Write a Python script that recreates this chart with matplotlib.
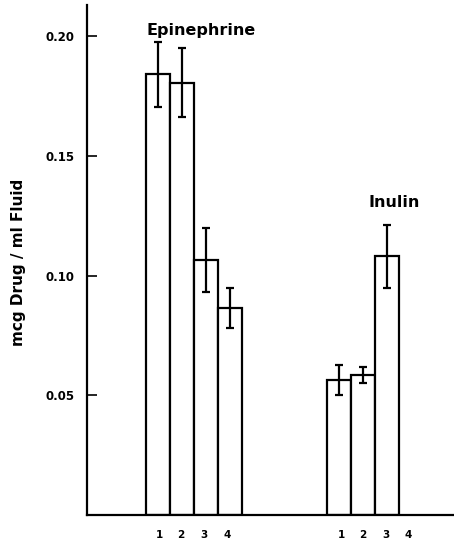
import matplotlib.pyplot as plt

# bar values (mcg drug / ml fluid)
epi_pos = [0, 1, 2, 3]
epi_vals = [0.184, 0.1805, 0.1066, 0.0865]
epi_err = [0.0135, 0.0145, 0.0133, 0.0085]

inu_pos = [7.5, 8.5, 9.5]
inu_vals = [0.0565, 0.0585, 0.108]
inu_err = [0.0063, 0.0035, 0.013]

tick_pos = [0.05, 0.92, 1.92, 2.88, 7.6, 8.5, 9.45, 10.4]
tick_labels = ['1', '2', '3', '4', '1', '2', '3', '4']

plt.rcParams['font.family'] = ['DejaVu Sans']

fig = plt.figure(figsize=(4.54, 5.44), dpi=100)
ax = fig.add_axes([0.192, 0.053, 0.808, 0.938])

err_kw = dict(ecolor='black', elinewidth=1.6, capsize=2.8, capthick=1.6)
ax.bar(epi_pos, epi_vals, width=1.0, yerr=epi_err, color='white',
       edgecolor='black', linewidth=1.6, error_kw=err_kw)
ax.bar(inu_pos, inu_vals, width=1.0, yerr=inu_err, color='white',
       edgecolor='black', linewidth=1.6, error_kw=err_kw)

ax.set_xlim(-2.95, 12.3)
ax.set_ylim(0, 0.213)
ax.set_yticks([0.05, 0.10, 0.15, 0.20])
ax.set_yticklabels(['0.05', '0.10', '0.15', '0.20'], fontsize=8.5, fontweight='bold')
ax.tick_params(axis='y', direction='in', length=7, width=1.2, pad=9)
ax.set_xticks(tick_pos)
ax.set_xticklabels(tick_labels, fontsize=7.5, fontweight='bold')
ax.tick_params(axis='x', length=0, pad=11)

for s in ['top', 'right']:
    ax.spines[s].set_visible(False)
for s in ['left', 'bottom']:
    ax.spines[s].set_linewidth(1.6)

ax.text(1.8, 0.2025, 'Epinephrine', ha='center', va='center',
        fontsize=11.5, fontweight='bold')
ax.text(9.8, 0.1305, 'Inulin', ha='center', va='center',
        fontsize=11.5, fontweight='bold')

fig.text(0.04, 0.517, 'mcg Drug / ml Fluid', rotation=90, ha='center',
         va='center', fontsize=11, fontweight='bold')

fig.savefig('out.png', dpi=100)
